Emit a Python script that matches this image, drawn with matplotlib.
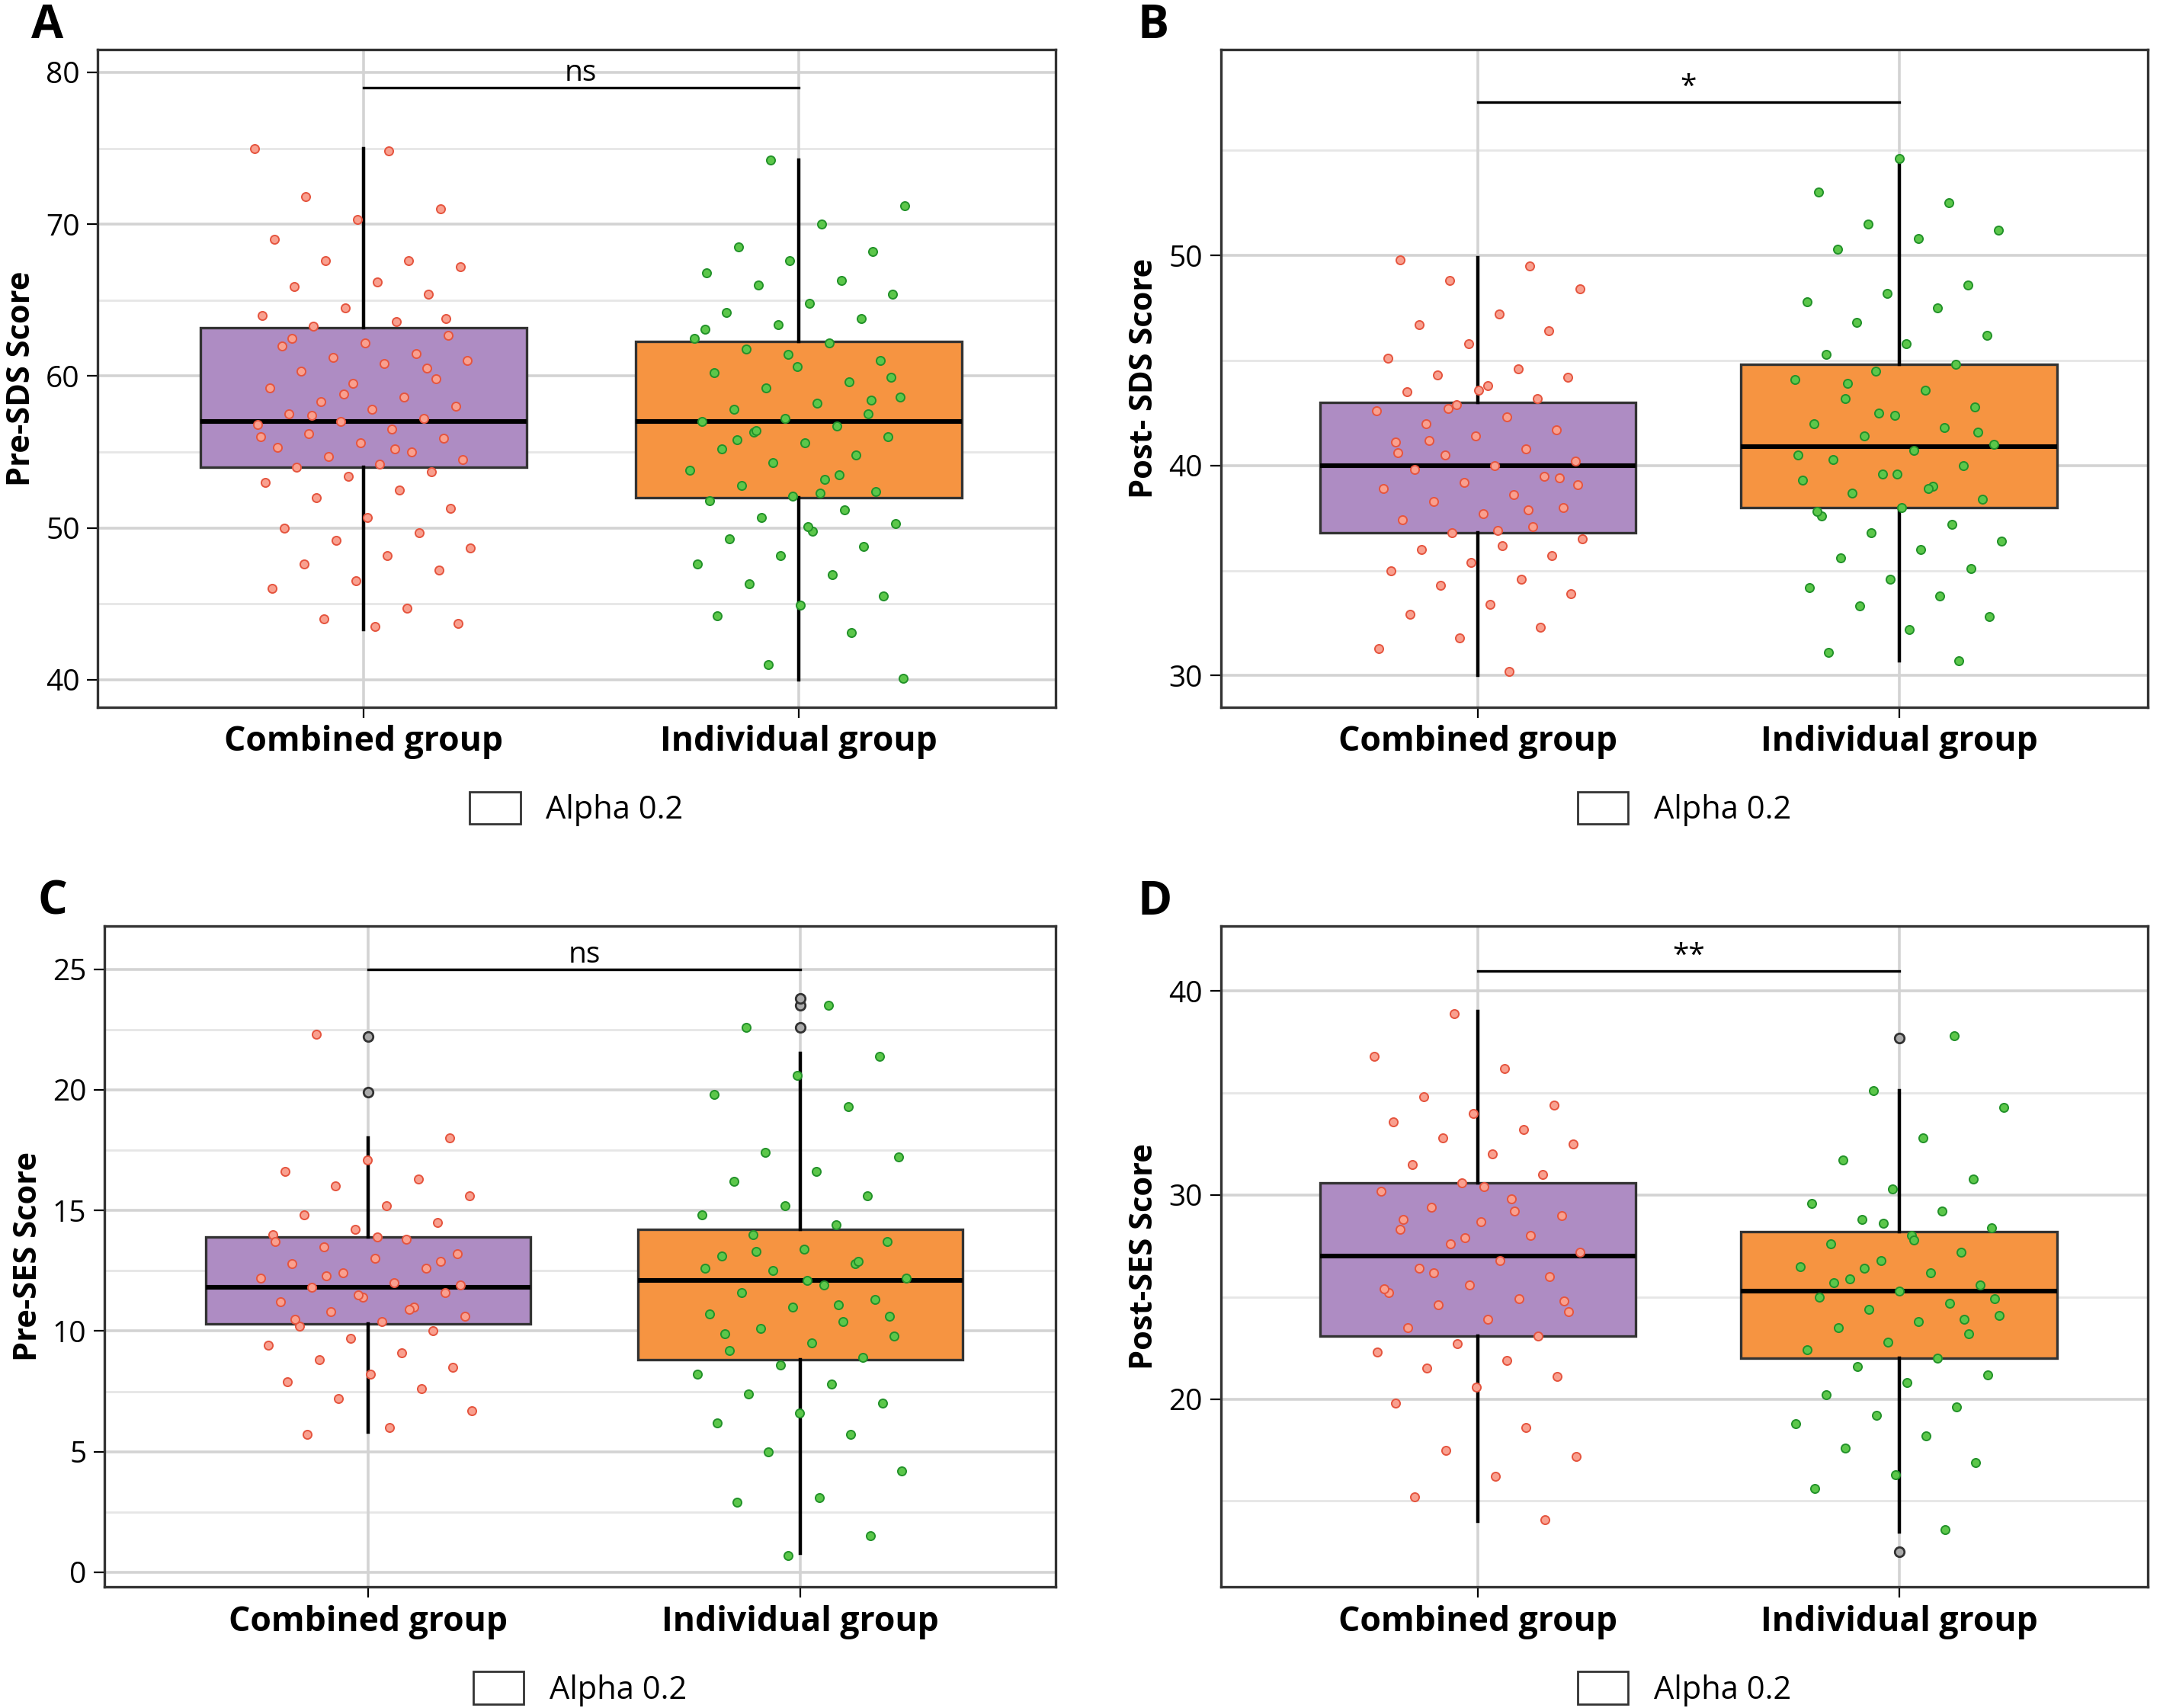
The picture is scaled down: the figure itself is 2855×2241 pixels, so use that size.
import matplotlib
matplotlib.use("Agg")
import matplotlib.pyplot as plt
from matplotlib.patches import Patch
import numpy as np

plt.rcParams['font.family'] = ['Open Sans', 'DejaVu Sans']

groups = ["Combined group", "Individual group"]
panels = ["A", "B", "C", "D"]
ylabels = ["Pre-SDS Score", "Post- SDS Score", "Pre-SES Score", "Post-SES Score"]
sig = ["ns", "*", "ns", "**"]
sig_y = [79, 57.3, 25, 41]
ylims = [(38.2, 81.5), (28.5, 59.8), (-0.6, 26.8), (10.8, 43.2)]
majors = [[40, 50, 60, 70, 80], [30, 40, 50], [0, 5, 10, 15, 20, 25], [20, 30, 40]]
minors = [[45, 55, 65, 75], [35, 45, 55], [2.5, 7.5, 12.5, 17.5, 22.5], [15, 25, 35]]

# box stats: (whislo, q1, med, q3, whishi, outliers)
stats = [
    [(43.3, 54.0, 57.0, 63.2, 75.0, []), (40.0, 52.0, 57.0, 62.3, 74.2, [])],
    [(30.0, 36.8, 40.0, 43.0, 49.9, []), (30.7, 38.0, 40.9, 44.8, 54.5, [])],
    [(5.8, 10.3, 11.8, 13.9, 18.0, [19.9, 22.2]), (0.8, 8.8, 12.1, 14.2, 21.5, [22.6, 23.5, 23.8])],
    [(14.0, 23.1, 27.0, 30.6, 39.0, []), (13.5, 22.0, 25.3, 28.2, 35.1, [37.7, 12.5])],
]

# observed points (jittered in the plot)
pts_A_comb = [75, 74.8, 71.8, 71, 70.3, 69, 67.6, 67.6, 67.2, 66.2, 65.9, 65.4, 64.5, 64, 63.6, 63.3, 62.7, 62.2,
              62, 61.5, 61.2, 61, 60.8, 60.3, 59.8, 59.5, 59.2, 58.6, 58.3, 58, 57.8, 57.5, 57.2, 57, 56.8, 56.5,
              56.2, 55.9, 55.6, 55.3, 55, 54.7, 54.5, 54.2, 54, 53.7, 53.4, 53, 52.5, 52, 51.3, 50.7, 50, 49.7,
              49.2, 48.7, 48.2, 47.6, 47.2, 46.5, 46, 44.7, 44, 43.7, 43.5, 62.5, 60.5, 58.8, 56, 55.2, 57.4, 63.8]
pts_A_ind = [74.2, 71.2, 70, 68.5, 68.2, 67.6, 66.8, 66.3, 66, 65.4, 64.8, 64.2, 63.8, 63.4, 62.5, 62.2, 61.8, 61,
             60.6, 60.2, 59.6, 59.2, 58.6, 58.2, 57.8, 57.5, 57.2, 57, 56.7, 56.3, 56, 55.6, 55.2, 54.8, 54.3, 53.8,
             53.2, 52.8, 52.4, 52.1, 51.8, 51.2, 50.7, 50.3, 49.8, 49.3, 48.8, 48.2, 47.6, 46.9, 46.3, 45.5, 44.9,
             44.2, 43.1, 41, 40.1, 52.3, 55.8, 58.4, 61.4, 63.1, 53.5, 56.4, 59.9, 50.1]
pts_B_comb = [49.8, 49.5, 48.8, 48.4, 47.2, 46.7, 46.4, 45.8, 45.1, 44.6, 44.3, 44.2, 43.8, 43.5, 43.2, 42.9, 42.6,
              42.3, 42, 41.7, 41.4, 41.1, 40.8, 40.5, 40.2, 40, 39.8, 39.5, 39.2, 38.9, 38.6, 38.3, 38, 37.7, 37.4,
              37.1, 36.8, 36.5, 36.2, 36, 35.7, 35.4, 35, 34.6, 34.3, 33.9, 33.4, 32.9, 32.3, 31.8, 31.3, 30.2,
              41.2, 39.4, 43.6, 40.6, 37.9, 42.7, 39.1, 36.9]
pts_B_ind = [54.6, 53, 52.5, 51.5, 51.2, 50.8, 50.3, 48.6, 48.2, 47.8, 47.5, 46.8, 46.2, 45.8, 45.3, 44.8, 44.5,
             44.1, 43.6, 43.2, 42.8, 42.4, 42, 41.8, 41.4, 41, 40.7, 40.3, 40, 39.6, 39.3, 39, 38.7, 38.4, 38,
             37.6, 37.2, 36.8, 36.4, 36, 35.6, 35.1, 34.6, 34.2, 33.8, 33.3, 32.8, 32.2, 31.1, 30.7, 42.5, 40.5,
             38.9, 43.9, 41.6, 39.6, 37.8]
pts_C_comb = [22.3, 18, 17.1, 16.6, 16.3, 16, 15.6, 15.2, 14.8, 14.5, 14.2, 14, 13.8, 13.5, 13.2, 13, 12.8,
              12.6, 12.4, 12.2, 12, 11.8, 11.6, 11.4, 11.2, 11, 10.8, 10.6, 10.4, 10.2, 10, 9.7, 9.4, 9.1, 8.8,
              8.5, 8.2, 7.9, 7.6, 7.2, 6.7, 6, 5.7, 12.9, 11.5, 13.7, 10.9, 12.3, 11.9, 13.9, 10.5]
pts_C_ind = [23.5, 22.6, 21.4, 20.6, 19.8, 19.3, 17.4, 17.2, 16.6, 16.2, 15.6, 15.2, 14.8, 14.4, 14, 13.7,
             13.4, 13.1, 12.8, 12.5, 12.2, 11.9, 11.6, 11.3, 11, 10.7, 10.4, 10.1, 9.8, 9.5, 9.2, 8.9, 8.6, 8.2,
             7.8, 7.4, 7, 6.6, 6.2, 5.7, 5, 4.2, 3.1, 2.9, 1.5, 0.7, 12.6, 11.1, 13.3, 10.6, 12.1, 9.9, 12.9]
pts_D_comb = [38.9, 36.8, 36.2, 34.8, 34.4, 34, 33.6, 33.2, 32.8, 32.5, 32, 31.5, 31, 30.6, 30.2, 29.8, 29.4, 29,
              28.7, 28.3, 28, 27.6, 27.2, 26.8, 26.4, 26, 25.6, 25.2, 24.9, 24.6, 24.3, 23.9, 23.5, 23.1, 22.7,
              22.3, 21.9, 21.5, 21.1, 20.6, 19.8, 18.6, 17.5, 17.2, 16.2, 15.2, 14.1, 27.9, 25.4, 29.2, 26.2,
              24.8, 30.4, 28.8]
pts_D_ind = [37.8, 35.1, 34.3, 32.8, 31.7, 30.8, 30.3, 29.6, 29.2, 28.8, 28.4, 28, 27.6, 27.2, 26.8, 26.5, 26.2,
             25.9, 25.6, 25.3, 25, 24.7, 24.4, 24.1, 23.8, 23.5, 23.2, 22.8, 22.4, 22, 21.6, 21.2, 20.8, 20.2,
             19.6, 19.2, 18.8, 18.2, 17.6, 16.9, 16.3, 15.6, 13.6, 26.4, 24.9, 27.8, 25.7, 23.9, 28.6]
points = [[pts_A_comb, pts_A_ind], [pts_B_comb, pts_B_ind], [pts_C_comb, pts_C_ind], [pts_D_comb, pts_D_ind]]

box_colors = ["#AE8CC3", "#F69441"]
pt_face = ["#F9A08F", "#5CC74A"]
pt_edge = ["#E5553F", "#23922A"]

fig = plt.figure(figsize=(14.275, 11.205), dpi=200)
rects = [(0.045, 0.586, 0.44, 0.385), (0.561, 0.586, 0.426, 0.385),
         (0.048, 0.071, 0.437, 0.387), (0.561, 0.071, 0.426, 0.387)]

for k in range(4):
    ax = fig.add_axes(rects[k])
    ax.set_xlim(0.39, 2.59)
    ax.set_ylim(*ylims[k])
    for v in minors[k]:
        ax.axhline(v, color="#E6E6E6", lw=1.0, zorder=0)
    for v in majors[k]:
        ax.axhline(v, color="#D3D3D3", lw=1.3, zorder=0)
    for p in (1, 2):
        ax.axvline(p, color="#D3D3D3", lw=1.3, zorder=0)
    bx = []
    for j in range(2):
        lo, q1, med, q3, hi, fl = stats[k][j]
        bx.append(dict(whislo=lo, q1=q1, med=med, q3=q3, whishi=hi, fliers=fl))
    b = ax.bxp(bx, positions=[1, 2], widths=0.75, patch_artist=True, showcaps=False,
               boxprops=dict(edgecolor="#333333", lw=1.2),
               medianprops=dict(color="black", lw=2.2),
               whiskerprops=dict(color="black", lw=1.6),
               flierprops=dict(marker="o", markerfacecolor="#AAAAAA", markeredgecolor="#333333",
                               markersize=4.5))
    for j, patch in enumerate(b["boxes"]):
        patch.set_facecolor(box_colors[j])
        patch.set_zorder(2)
    for j in range(2):
        ys = np.array(points[k][j])
        n = len(ys)
        frac = (np.arange(n) * 0.6180339887 + 0.13 * k + 0.37 * j) % 1.0
        xs = (j + 1) + (frac - 0.5) * 0.5
        ax.scatter(xs, ys, s=16, facecolor=pt_face[j], edgecolor=pt_edge[j], lw=0.7, zorder=4)
    ax.plot([1, 2], [sig_y[k], sig_y[k]], color="black", lw=1.2)
    ax.text(1.5, sig_y[k], sig[k], ha="center", va="bottom", fontsize=14)
    ax.set_xticks([1, 2])
    ax.set_xticklabels(groups, fontsize=16, fontweight="bold")
    ax.set_yticks(majors[k])
    ax.tick_params(axis="y", labelsize=14, length=5)
    ax.tick_params(axis="x", length=5)
    ax.set_ylabel(ylabels[k], fontsize=15, fontweight="bold")
    for s in ax.spines.values():
        s.set_color("#333333")
        s.set_linewidth(1.2)
    ax.text(-0.07 if k % 2 == 0 else -0.09, 1.0, panels[k], transform=ax.transAxes,
            fontsize=22, fontweight="bold", ha="left", va="bottom")
    ax.legend(handles=[Patch(facecolor="white", edgecolor="#333333", label="Alpha 0.2")],
              loc="upper center", bbox_to_anchor=(0.5, -0.085), frameon=False, fontsize=15,
              handlelength=1.6, handleheight=1.2)

fig.savefig("out.png", dpi=200)
